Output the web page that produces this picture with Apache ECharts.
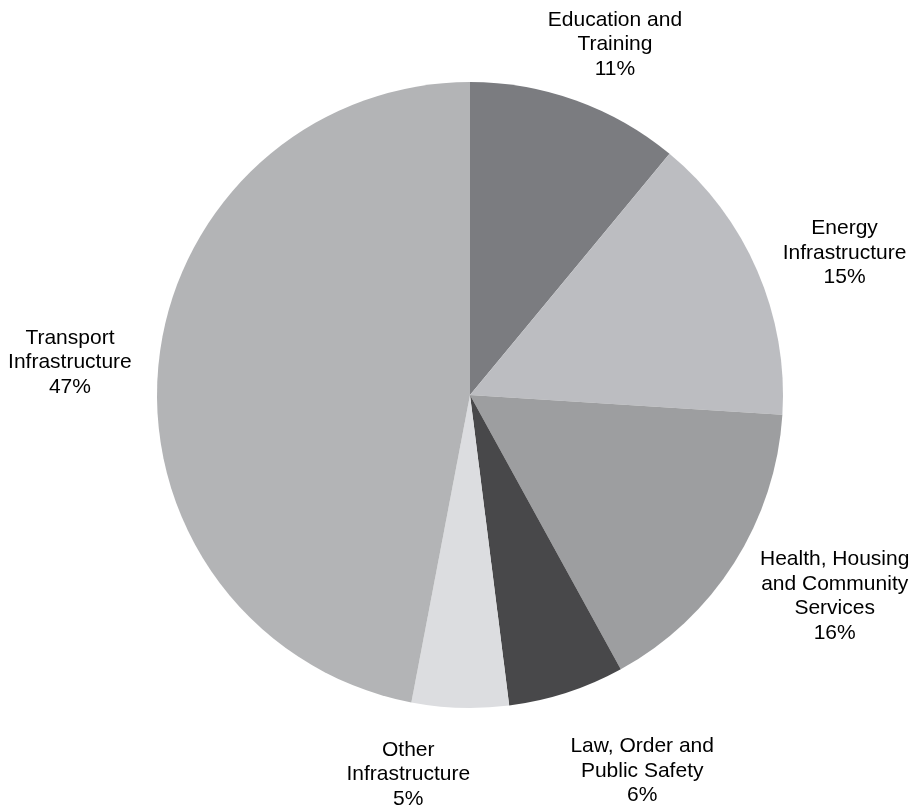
<!DOCTYPE html>
<html>
<head>
<meta charset="utf-8">
<script src="https://cdn.jsdelivr.net/npm/echarts@6/dist/echarts.min.js"></script>
<style>
html,body{margin:0;padding:0;background:#fff;}
#chart{width:917px;height:806px;}
</style>
</head>
<body>
<div id="chart"></div>
<script>
// ---- data ----
var categories = [
  'Education and\nTraining',
  'Energy\nInfrastructure',
  'Health, Housing\nand Community\nServices',
  'Law, Order and\nPublic Safety',
  'Other\nInfrastructure',
  'Transport\nInfrastructure'
];
var shares = [11, 15, 16, 6, 5, 47];
var sliceColors = ['#7b7c80', '#bcbdc1', '#9d9ea0', '#48484a', '#dcdde0', '#b3b4b6'];

// ---- layout (styles only) ----
var CX = 470, CY = 395, R = 313, GAP = 30;
var labelNudge = [[6, 7], [3, 9], [12, -9], [44, 15], [-49, 0], [3, 3]];

var total = shares.reduce(function (a, b) { return a + b; }, 0);
var midAngles = [];
(function () {
  var cum = 0;
  for (var i = 0; i < shares.length; i++) {
    midAngles.push((cum + shares[i] / 2) / total * 2 * Math.PI);
    cum += shares[i];
  }
})();

var chart = echarts.init(document.getElementById('chart'), null, { renderer: 'canvas' });
chart.setOption({
  animation: false,
  backgroundColor: '#ffffff',
  series: [{
    type: 'pie',
    center: [CX, CY],
    radius: [0, R],
    startAngle: 90,
    clockwise: true,
    avoidLabelOverlap: false,
    emphasis: { scale: false },
    data: categories.map(function (n, i) {
      return { name: n, value: shares[i], itemStyle: { color: sliceColors[i] } };
    }),
    label: {
      show: true,
      position: 'outside',
      formatter: function (p) { return p.name + '\n' + p.value + '%'; },
      fontFamily: 'Liberation Sans, Arial, sans-serif',
      fontSize: 21,
      lineHeight: 24.5,
      color: '#000',
      align: 'center'
    },
    labelLine: { show: false },
    itemStyle: { borderWidth: 0 }
  }]
});

chart.setOption({
  series: [{
    labelLayout: function (params) {
      var i = params.dataIndex;
      var a = midAngles[i];
      var ux = Math.sin(a), uy = -Math.cos(a);
      var w = params.labelRect.width, h = params.labelRect.height;
      var x = CX + ux * (R + GAP) + ux * w / 2 + labelNudge[i][0];
      var y = CY + uy * (R + GAP) + uy * h / 2 + labelNudge[i][1];
      return { x: x, y: y, align: 'center', verticalAlign: 'middle' };
    }
  }]
});
</script>
</body>
</html>
